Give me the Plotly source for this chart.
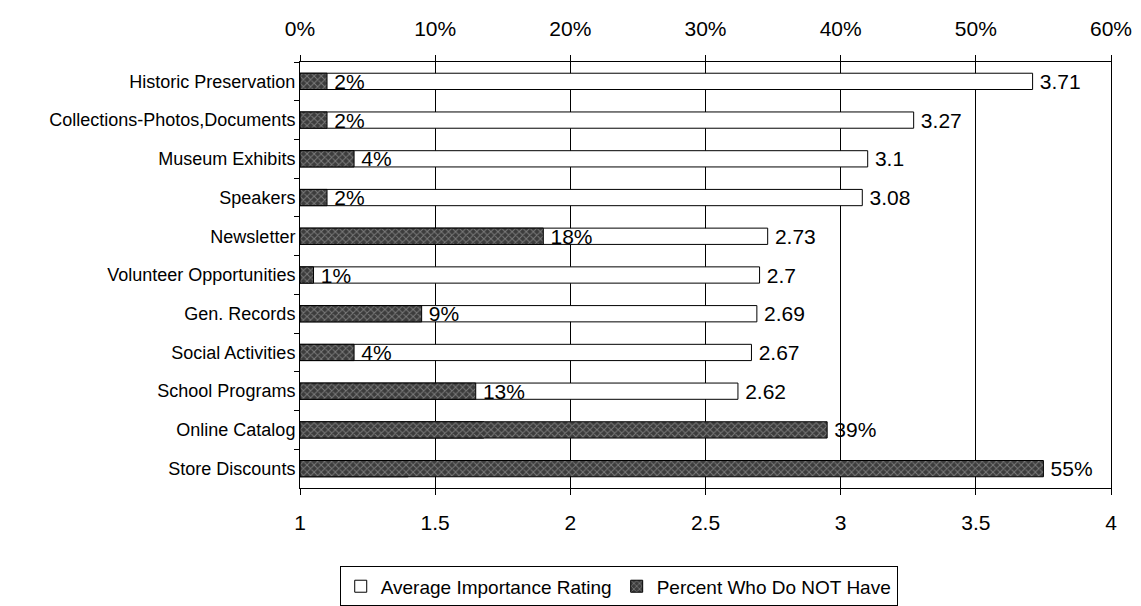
import plotly.graph_objects as go

categories = ["Historic Preservation", "Collections-Photos,Documents", "Museum Exhibits",
              "Speakers", "Newsletter", "Volunteer Opportunities", "Gen. Records",
              "Social Activities", "School Programs", "Online Catalog", "Store Discounts"]
avg_rating = [3.71, 3.27, 3.1, 3.08, 2.73, 2.7, 2.69, 2.67, 2.62, 1.68, 1.4]
pct_not_have = [0.02, 0.02, 0.04, 0.02, 0.18, 0.01, 0.09, 0.04, 0.13, 0.39, 0.55]
rating_ticks = [1, 1.5, 2, 2.5, 3, 3.5, 4]
pct_ticks = [0, 0.1, 0.2, 0.3, 0.4, 0.5, 0.6]

FONT = "Liberation Sans, Arial, sans-serif"
BASE = 1

fig = go.Figure()
fig.add_trace(go.Bar(
    name="Average Importance Rating",
    y=categories, x=[v - BASE for v in avg_rating], base=BASE,
    orientation="h", width=0.42,
    marker=dict(color="white", line=dict(color="black", width=1)),
    text=[f"\u2009{v:g}" for v in avg_rating], textposition="outside",
    textfont=dict(family=FONT, size=21, color="black"),
    constraintext="none", cliponaxis=False,
    xaxis="x", yaxis="y",
))
fig.add_trace(go.Bar(
    name="Percent Who Do NOT Have",
    y=categories, x=pct_not_have,
    orientation="h", width=0.42,
    marker=dict(color="#3c3c3c", line=dict(color="black", width=1),
                pattern=dict(shape="x", fgcolor="#b8b8b8", size=5, solidity=0.35)),
    texttemplate="\u2009%{x:.0%}", textposition="outside",
    textfont=dict(family=FONT, size=21, color="black"),
    constraintext="none", cliponaxis=False,
    xaxis="x2", yaxis="y",
))

fig.update_layout(
    width=1133, height=598,
    margin=dict(l=292, r=30, t=54, b=118, autoexpand=False),
    paper_bgcolor="white", plot_bgcolor="white",
    font=dict(family=FONT, color="black"),
    barmode="overlay",
    showlegend=True,
    legend=dict(orientation="h", x=0.393, xanchor="center", y=-0.184, yanchor="top",
                bordercolor="black", borderwidth=1, font=dict(size=19, family=FONT),
                itemwidth=30, traceorder="normal", tracegroupgap=0,
                bgcolor="white"),
    xaxis=dict(range=[1, 4], tickvals=rating_ticks, side="bottom", automargin=False,
               showline=True, linecolor="black", linewidth=1,
               ticks="outside", ticklen=6, tickcolor="black",
               showgrid=True, gridcolor="black", gridwidth=1, zeroline=False,
               tickfont=dict(size=21, family=FONT), ticklabelstandoff=10),
    xaxis2=dict(range=[0, 0.6], tickvals=pct_ticks, tickformat=".0%", side="top",
                overlaying="x", anchor="y", automargin=False,
                showline=True, linecolor="black", linewidth=1,
                ticks="outside", ticklen=6, tickcolor="black",
                showgrid=False, zeroline=False,
                tickfont=dict(size=21, family=FONT), ticklabelstandoff=11),
    yaxis=dict(categoryorder="array", categoryarray=categories, autorange="reversed",
               automargin=False,
               showline=True, linecolor="black", linewidth=1, mirror=True,
               ticks="outside", ticklen=5, tickcolor="black", tickson="boundaries",
               showgrid=False, tickfont=dict(size=18, family=FONT)),
)

fig.write_html("out.html")
